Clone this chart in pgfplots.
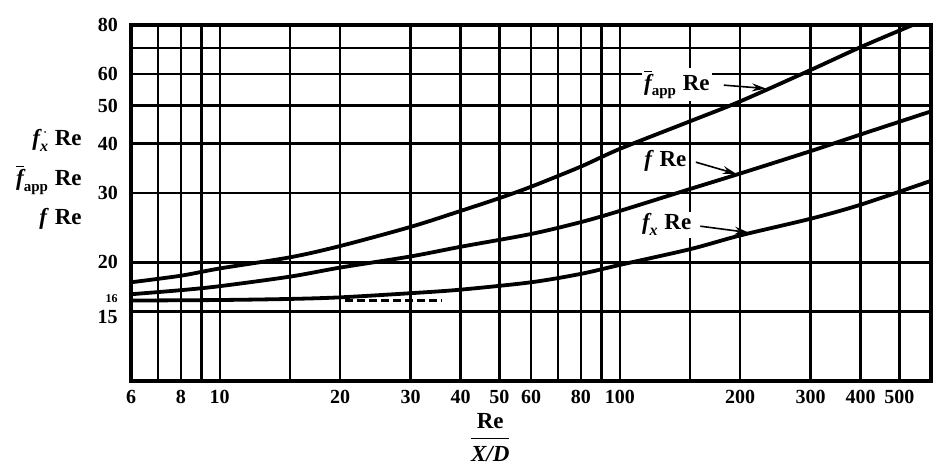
\documentclass[border=0pt]{standalone}
\usepackage{pgfplots}
\pgfplotsset{compat=1.18}
\usetikzlibrary{arrows.meta}
\usepackage{fontspec}
\setmainfont{Liberation Serif}
\newcommand{\lab}{\bfseries\fontsize{11.5}{13}\selectfont}
\begin{document}
\begin{tikzpicture}
\useasboundingbox (-65.5pt,-47pt) rectangle (410.5pt,190.5pt);
\begin{axis}[
  scale only axis, width=400pt, height=178pt,
  clip mode=individual,
  xmode=log, ymode=log,
  xmin=6, xmax=600, ymin=10, ymax=80,
  xtick={6,8,10,20,30,40,50,60,80,100,200,300,400,500},
  xticklabels={6,8,10,20,30,40,50,60,80,100,200,300,400,500},
  minor xtick={7,9,15,70,90,150},
  ytick={20,30,40,50,60,80},
  yticklabels={20,30,40,50,60,80},
  minor ytick={15,70},
  grid=both,
  major grid style={black,line width=1.2pt},
  minor grid style={black,line width=1.2pt},
  major tick length=0pt, minor tick length=0pt,
  axis line style={black,line width=1.8pt},
  tick label style={font=\bfseries\fontsize{10}{12}\selectfont},
  yticklabel style={xshift=-3pt},
  xticklabel style={yshift=-1pt},
  xlabel={\lab$\displaystyle\frac{\mbox{\lab Re}}{\mbox{\lab\itshape X/D}}$},
  xlabel style={at={(axis description cs:0.449,0)}, anchor=north, yshift=-16pt, inner sep=0pt},
]
% f_app Re
\addplot[black, line width=1.9pt, smooth] coordinates {
 (6,17.8) (8,18.5) (10,19.3) (15,20.6) (20,22.0) (30,24.6) (40,27.0) (50,29.1)
 (60,31.1) (80,35.0) (100,38.8) (150,45.6) (200,51.2) (300,61.5) (400,70.3) (540,80)};
% f Re
\addplot[black, line width=1.9pt, smooth] coordinates {
 (6,16.6) (8,17.0) (10,17.4) (15,18.4) (20,19.4) (30,20.7) (40,21.9) (60,23.6)
 (80,25.3) (100,27.0) (150,30.7) (200,33.6) (300,38.3) (400,42.2) (600,48.3)};
% f_x Re
\addplot[black, line width=1.9pt, smooth] coordinates {
 (6,16.0) (10,16.05) (15,16.15) (20,16.3) (30,16.7) (40,17.05) (60,17.8)
 (80,18.7) (100,19.7) (150,21.6) (200,23.4) (300,25.8) (400,28.0) (600,32.2)};
% fully developed value 16 (dashed)
\addplot[black, line width=1.1pt, dash pattern=on 4pt off 2pt] coordinates {(20.6,16) (36,16)};

% annotations
\node[fill=white, inner sep=1pt, font=\lab] at (axis cs:139,56.5)
  {$\overline{\textit{f}}_{\mbox{\bfseries\fontsize{7.5}{8}\selectfont app}}$ Re};
\draw[-{Stealth[length=7pt,width=4pt]}, line width=0.8pt] (axis cs:182,56.3) -- (axis cs:232,55.2);
\node[fill=white, inner sep=1pt, font=\lab] at (axis cs:130,36.1) {\textit{f} Re};
\draw[-{Stealth[length=7pt,width=4pt]}, line width=0.8pt] (axis cs:155,35.9) -- (axis cs:196,33.5);
\node[fill=white, inner sep=1pt, font=\lab] at (axis cs:131,24.9)
  {$\textit{f}_{\mbox{\bfseries\itshape\fontsize{8}{9}\selectfont x}}$ Re};
\draw[-{Stealth[length=7pt,width=4pt]}, line width=0.8pt] (axis cs:159,24.7) -- (axis cs:210,23.8);

% special y labels
\node[anchor=east, inner sep=0pt, xshift=-6.5pt, font=\bfseries\fontsize{6}{7}\selectfont] at (axis cs:6,16.2) {16};
\node[anchor=east, inner sep=0pt, xshift=-6.5pt, font=\bfseries\fontsize{10}{12}\selectfont] at (axis cs:6,14.5) {15};

% left axis labels
\node[anchor=east, inner sep=0pt, xshift=-24.5pt, font=\lab] at (axis cs:6,40.8)
  {$\textit{f}_{\mbox{\bfseries\itshape\fontsize{8}{9}\selectfont x}}^{\,\cdot}$ Re};
\node[anchor=east, inner sep=0pt, xshift=-24.5pt, font=\lab] at (axis cs:6,32.3)
  {$\overline{\textit{f}}_{\mbox{\bfseries\fontsize{7.5}{8}\selectfont app}}$ Re};
\node[anchor=east, inner sep=0pt, xshift=-24.5pt, font=\lab] at (axis cs:6,25.8) {\textit{f} Re};
\end{axis}
\end{tikzpicture}
\end{document}
